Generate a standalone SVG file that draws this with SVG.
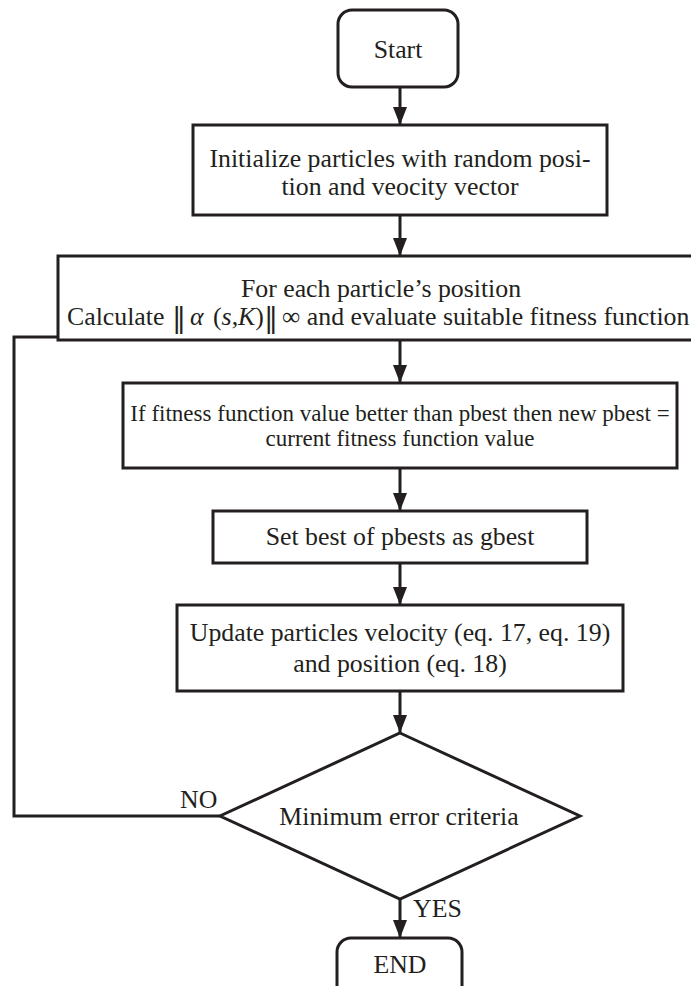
<svg xmlns="http://www.w3.org/2000/svg" width="691" height="986" viewBox="0 0 691 986" font-family="'Liberation Serif', 'Times New Roman', 'DejaVu Serif', serif">
<style>
.box{fill:#fff;stroke:#231f20;stroke-width:3}
.con{fill:none;stroke:#231f20;stroke-width:3}
text{font-size:25.8px;fill:#231f20}
.c{text-anchor:middle}
.sm{font-size:23px}
.it{font-style:italic}
.bar{font-family:"DejaVu Serif",serif;font-size:28px}
</style>
<defs>
<marker id="ah" markerUnits="userSpaceOnUse" markerWidth="18" markerHeight="14" viewBox="0 0 18 14" refX="18" refY="7" orient="auto">
<path d="M0,0 L18,7 L0,14 z" fill="#231f20"/>
</marker>
</defs>
<rect width="691" height="986" fill="#fff"/>
<g id="connectors">
<line class="con" x1="400" y1="87" x2="400" y2="125" marker-end="url(#ah)"/>
<line class="con" x1="400" y1="215" x2="400" y2="256" marker-end="url(#ah)"/>
<line class="con" x1="400" y1="340" x2="400" y2="383" marker-end="url(#ah)"/>
<line class="con" x1="400" y1="468" x2="400" y2="511" marker-end="url(#ah)"/>
<line class="con" x1="400" y1="563" x2="400" y2="605" marker-end="url(#ah)"/>
<line class="con" x1="400" y1="691" x2="400" y2="733" marker-end="url(#ah)"/>
<line class="con" x1="400" y1="899" x2="400" y2="938" marker-end="url(#ah)"/>
<polyline class="con" points="220,816 14,816 14,337 58,337"/>
<text x="180" y="808">NO</text>
<text x="413" y="917">YES</text>
</g>
<g id="start">
<rect class="box" x="338" y="10" width="120" height="77" rx="14"/>
<text class="c" x="398" y="58">Start</text>
</g>
<g id="init">
<rect class="box" x="193" y="125" width="414" height="90"/>
<text class="c" x="400" y="167">Initialize particles with random posi-</text>
<text class="c" x="400" y="195">tion and veocity vector</text>
</g>
<g id="evaluate">
<rect class="box" x="58" y="256" width="700" height="84"/>
<text class="c" x="381" y="297">For each particle’s position</text>
<text x="67" y="325">Calculate <tspan class="bar" x="172" y="327">‖</tspan><tspan class="it" x="190" y="325">α</tspan><tspan x="213">(</tspan><tspan class="it">s</tspan>,<tspan class="it">K</tspan>)<tspan class="bar" x="264" y="327">‖</tspan><tspan x="282" y="325">∞ and evaluate suitable fitness function</tspan></text>
</g>
<g id="pbest">
<rect class="box" x="123" y="383" width="554" height="85"/>
<text class="c sm" x="400" y="421">If fitness function value better than pbest then new pbest =</text>
<text class="c sm" x="400" y="446">current fitness function value</text>
</g>
<g id="gbest">
<rect class="box" x="213" y="511" width="374" height="52"/>
<text class="c" x="400" y="545">Set best of pbests as gbest</text>
</g>
<g id="update">
<rect class="box" x="177" y="605" width="446" height="86"/>
<text class="c" x="400" y="641">Update particles velocity (eq. 17, eq. 19)</text>
<text class="c" x="400" y="672">and position (eq. 18)</text>
</g>
<g id="decision">
<polygon class="box" points="400,733 580,816 400,899 220,816"/>
<text class="c" x="399" y="825">Minimum error criteria</text>
</g>
<g id="end">
<rect class="box" x="337" y="938" width="125" height="70" rx="14"/>
<text class="c" x="400" y="973">END</text>
</g>
</svg>
